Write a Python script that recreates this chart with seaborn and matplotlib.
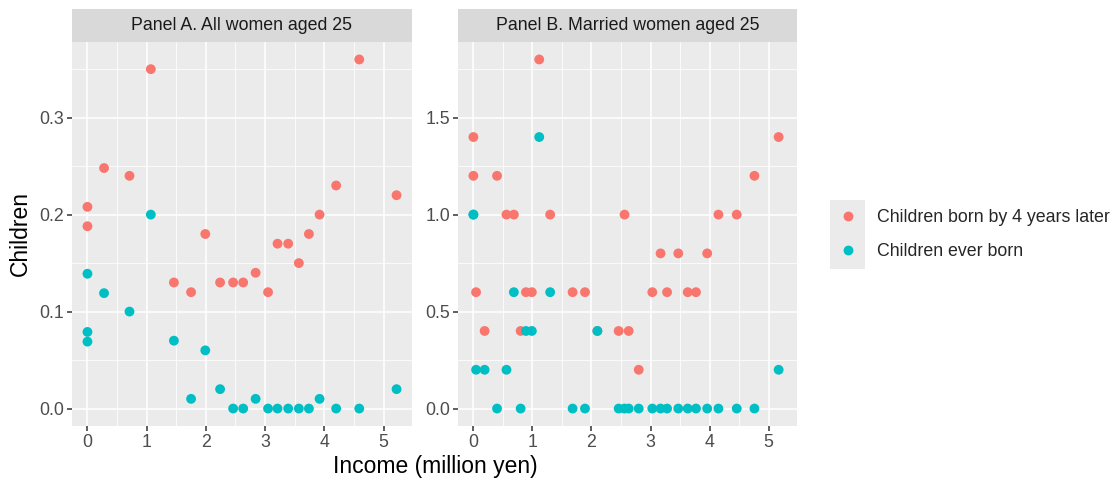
import pandas as pd
import matplotlib.pyplot as plt
import seaborn as sns
import numpy as np
from matplotlib.patches import Rectangle
from matplotlib.ticker import MultipleLocator, FormatStrFormatter

# Panel A. All women aged 25
a_later_x = [0, 0, 0.28, 0.71, 1.07, 1.46, 1.75, 1.99, 2.24, 2.46, 2.63, 2.84, 3.05,
             3.21, 3.39, 3.57, 3.74, 3.92, 4.20, 4.59, 5.22]
a_later_y = [0.208, 0.188, 0.248, 0.24, 0.35, 0.13, 0.12, 0.18, 0.13, 0.13, 0.13, 0.14,
             0.12, 0.17, 0.17, 0.15, 0.18, 0.20, 0.23, 0.36, 0.22]
a_ever_x = [0, 0, 0, 0.28, 0.71, 1.07, 1.46, 1.75, 1.99, 2.24, 2.46, 2.63, 2.84, 3.05,
            3.21, 3.39, 3.57, 3.74, 3.92, 4.20, 4.59, 5.22]
a_ever_y = [0.139, 0.079, 0.069, 0.119, 0.10, 0.20, 0.07, 0.01, 0.06, 0.02, 0, 0, 0.01,
            0, 0, 0, 0, 0, 0.01, 0, 0, 0.02]

# Panel B. Married women aged 25
b_x = [0, 0, 0.045, 0.19, 0.40, 0.56, 0.685, 0.80, 0.89, 0.99, 1.115, 1.30, 1.68, 1.89,
       2.10, 2.46, 2.56, 2.63, 2.80, 3.03, 3.17, 3.28, 3.47, 3.63, 3.77, 3.96, 4.15,
       4.46, 4.76, 5.17]
b_later_y = [1.4, 1.2, 0.6, 0.4, 1.2, 1.0, 1.0, 0.4, 0.6, 0.6, 1.8, 1.0, 0.6, 0.6,
             0.4, 0.4, 1.0, 0.4, 0.2, 0.6, 0.8, 0.6, 0.8, 0.6, 0.6, 0.8, 1.0,
             1.0, 1.2, 1.4]
b_ever_y = [1.0, 1.0, 0.2, 0.2, 0.0, 0.2, 0.6, 0.0, 0.4, 0.4, 1.4, 0.6, 0.0, 0.0,
            0.4, 0.0, 0.0, 0.0, 0.0, 0.0, 0.0, 0.0, 0.0, 0.0, 0.0, 0.0, 0.0,
            0.0, 0.0, 0.2]

panels = ['Panel A. All women aged 25', 'Panel B. Married women aged 25']
measures = ['Children born by 4 years later', 'Children ever born']
colors = ['#F8766D', '#00BFC4']

frames = [
    pd.DataFrame({'panel': panels[0], 'measure': measures[0], 'income': a_later_x, 'children': a_later_y}),
    pd.DataFrame({'panel': panels[0], 'measure': measures[1], 'income': a_ever_x, 'children': a_ever_y}),
    pd.DataFrame({'panel': panels[1], 'measure': measures[0], 'income': b_x, 'children': b_later_y}),
    pd.DataFrame({'panel': panels[1], 'measure': measures[1], 'income': b_x, 'children': b_ever_y}),
]
df = pd.concat(frames, ignore_index=True)

sns.set_style('darkgrid', {'axes.facecolor': '#EBEBEB', 'grid.color': 'white'})
plt.rcParams['font.family'] = ['Liberation Sans', 'DejaVu Sans']

W, H = 1118, 482
fig = plt.figure(figsize=(W / 100, H / 100), dpi=100)

def px(l, t, r, b):
    return [l / W, 1 - b / H, (r - l) / W, (b - t) / H]

boxes = [px(72, 42, 412, 426), px(458, 42, 797, 426)]
ylims = [(-0.018, 0.378), (-0.09, 1.89)]
ymaj = [0.1, 0.5]
xlim = (-0.261, 5.481)
small = 12.8

axes = []
for i, panel in enumerate(panels):
    ax = fig.add_axes(boxes[i])
    sub = df[df['panel'] == panel]
    sns.scatterplot(data=sub, x='income', y='children', hue='measure', hue_order=measures,
                    palette=colors, s=50, linewidth=0, alpha=1, ax=ax, legend=(i == 1))
    ax.set_xlim(xlim)
    ax.set_ylim(ylims[i])
    ax.xaxis.set_major_locator(MultipleLocator(1))
    ax.xaxis.set_minor_locator(MultipleLocator(0.5))
    ax.yaxis.set_major_locator(MultipleLocator(ymaj[i]))
    ax.yaxis.set_minor_locator(MultipleLocator(ymaj[i] / 2))
    ax.yaxis.set_major_formatter(FormatStrFormatter('%.1f'))
    ax.grid(which='major', color='white', linewidth=1.1)
    ax.grid(which='minor', color='white', linewidth=0.55)
    ax.set_axisbelow(True)
    for s in ax.spines.values():
        s.set_visible(False)
    ax.tick_params(which='major', length=3.5, width=1.1, color='#333333', labelsize=small,
                   labelcolor='#4D4D4D', pad=2, left=True, bottom=True)
    ax.tick_params(which='minor', length=0)
    ax.set_xlabel('')
    ax.set_ylabel('')
    # facet strip
    ax.add_patch(Rectangle((0, 1), 1, 33 / 384, transform=ax.transAxes, facecolor='#D9D9D9',
                           edgecolor='none', clip_on=False))
    ax.text(0.5, 1 + 16.5 / 384, panel, transform=ax.transAxes, ha='center', va='center',
            fontsize=small, color='#1A1A1A')
    axes.append(ax)

handles, labels = axes[1].get_legend_handles_labels()
axes[1].get_legend().remove()
fig.patches.append(Rectangle((830 / W, 1 - 269 / H), 35 / W, 69 / H, transform=fig.transFigure,
                             facecolor='#EBEBEB', edgecolor='none'))
fig.legend(handles, labels, loc='center left', bbox_to_anchor=(839 / W, 1 - 234.5 / H),
           frameon=False, fontsize=small, handletextpad=1.13, labelspacing=0.95,
           handlelength=1.0, borderpad=0, borderaxespad=0, markerscale=1.0)

fig.text(435 / W, 1 - 466 / H, 'Income (million yen)', ha='center', va='center', fontsize=16.5,
         color='black')
fig.text(20 / W, 1 - 234 / H, 'Children', ha='center', va='center', rotation=90, fontsize=16.5,
         color='black')

fig.savefig('out.png', dpi=100)
